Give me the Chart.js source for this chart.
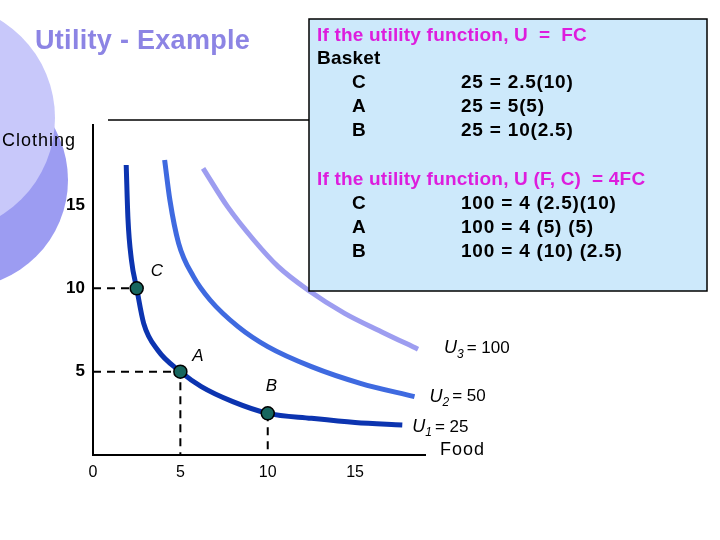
<!DOCTYPE html>
<html>
<head>
<meta charset="utf-8">
<script src="https://cdn.jsdelivr.net/npm/chart.js@4"></script>
<style>
  html, body { margin: 0; padding: 0; background: #fff; }
  #wrap { width: 720px; height: 540px; position: relative; }
</style>
</head>
<body>
<div id="wrap"><canvas id="chart"></canvas></div>
<script>
// axis ticks
var xTicks = [0, 5, 10, 15]
var yTicks = [5, 10, 15]

// indifference curves (food, clothing)
var u1Food = [1.9, 2.0, 2.2, 2.5, 2.9, 3.7, 5, 6.2, 8, 10, 12.5, 15, 17.7]
var u1Cloth = [17.4, 14.2, 11.7, 10, 7.9, 6.3, 5, 4.1, 3.2, 2.5, 2.2, 1.95, 1.8]

var u2Food = [4.1, 4.4, 4.9, 5.75, 6.7, 8.3, 10, 12.5, 15.3, 18.4]
var u2Cloth = [17.7, 15.3, 12.7, 10.7, 9.3, 7.7, 6.5, 5.3, 4.3, 3.5]

var u3Food = [6.3, 7.7, 9.2, 10.6, 12.3, 14.4, 16.5, 18.6]
var u3Cloth = [17.2, 14.9, 12.9, 11.3, 9.9, 8.5, 7.4, 6.35]

// baskets C, A, B
var basketNames = ['C', 'A', 'B']
var basketFood = [2.5, 5, 10]
var basketCloth = [10, 5, 2.5]

function pts(xs, ys) {
  return xs.map((x, i) => ({x: x, y: ys[i]}))
}

var dashC = {label: 'dashC', data: [{x: 0, y: 10}, {x: 2.5, y: 10}]}
var dashA = {label: 'dashA', data: [{x: 0, y: 5}, {x: 5, y: 5}, {x: 5, y: 0}]}
var dashB = {label: 'dashB', data: [{x: 10, y: 2.5}, {x: 10, y: 0}]}

var dashSets = [dashC, dashA, dashB].map(d => Object.assign(d, {
  showLine: true, borderColor: '#000', borderWidth: 2, borderDash: [8, 6],
  pointRadius: 0, tension: 0, order: 5
}))

function curve(label, xs, ys, color) {
  return {
    label: label, data: pts(xs, ys), showLine: true,
    borderColor: color, borderWidth: 5, pointRadius: 0,
    cubicInterpolationMode: 'monotone', borderCapStyle: 'butt', order: 3
  }
}

var FONT = '"Liberation Sans", Arial, sans-serif'

// background decoration, drawn under the chart
var slideBack = {
  id: 'slideBack',
  beforeDraw(chart) {
    let ctx = chart.ctx
    ctx.save()
    ctx.fillStyle = '#fff'
    ctx.fillRect(0, 0, chart.width, chart.height)
    ctx.fillStyle = '#9c9cf2'
    ctx.beginPath(); ctx.arc(-40, 180, 108, 0, Math.PI * 2); ctx.fill()
    ctx.fillStyle = '#c8c8fa'
    ctx.beginPath(); ctx.arc(-60, 118, 115, 0, Math.PI * 2); ctx.fill()

    ctx.strokeStyle = '#000'
    ctx.lineWidth = 1.5
    ctx.beginPath(); ctx.moveTo(108, 120); ctx.lineTo(312, 120); ctx.stroke()

    ctx.fillStyle = '#8c84e4'
    ctx.font = 'bold 27px ' + FONT
    ctx.textBaseline = 'middle'
    ctx.letterSpacing = '0.3px'
    ctx.fillText('Utility - Example', 35, 42)

    ctx.fillStyle = '#000'
    ctx.font = '18px ' + FONT
    ctx.letterSpacing = '1px'
    ctx.fillText('Clothing', 2, 141)
    ctx.fillText('Food', 440, 450)
    ctx.restore()
  }
}

function uLabel(ctx, x, y, sub, rest) {
  ctx.font = 'italic 18px ' + FONT
  ctx.fillText('U', x, y)
  let w = ctx.measureText('U').width
  ctx.font = 'italic 12px ' + FONT
  ctx.fillText(sub, x + w, y + 6)
  let w2 = ctx.measureText(sub).width
  ctx.font = '17px ' + FONT
  ctx.fillText(rest, x + w + w2 + 3, y)
}

var overlay = {
  id: 'overlay',
  afterDatasetsDraw(chart) {
    let ctx = chart.ctx
    let xs = chart.scales.x, ys = chart.scales.y
    ctx.save()
    ctx.textBaseline = 'middle'
    ctx.fillStyle = '#000'

    // basket letters next to their points
    let off = [[14, -17], [12, -15], [-2, -27]]
    basketNames.forEach((n, i) => {
      ctx.font = 'italic 17px ' + FONT
      ctx.fillText(n, xs.getPixelForValue(basketFood[i]) + off[i][0],
        ys.getPixelForValue(basketCloth[i]) + off[i][1])
    })

    // curve labels
    uLabel(ctx, xs.getPixelForValue(u3Food[u3Food.length - 1]) + 26,
      ys.getPixelForValue(u3Cloth[u3Cloth.length - 1]) - 1, '3', '= 100')
    uLabel(ctx, xs.getPixelForValue(u2Food[u2Food.length - 1]) + 15,
      ys.getPixelForValue(u2Cloth[u2Cloth.length - 1]) + 0, '2', '= 50')
    uLabel(ctx, xs.getPixelForValue(u1Food[u1Food.length - 1]) + 10,
      ys.getPixelForValue(u1Cloth[u1Cloth.length - 1]) + 2, '1', '= 25')

    // info box
    ctx.fillStyle = '#cde9fb'
    ctx.fillRect(309, 19, 398, 272)
    ctx.strokeStyle = '#000'
    ctx.lineWidth = 1.5
    ctx.strokeRect(309, 19, 398, 272)

    ctx.font = 'bold 19px ' + FONT
    ctx.letterSpacing = '0.2px'
    ctx.fillStyle = '#dd1ddd'
    ctx.fillText('If the utility function, U  =  FC', 317, 36)
    ctx.fillText('If the utility function, U (F, C)  = 4FC', 317, 180)
    ctx.fillStyle = '#000'
    ctx.fillText('Basket', 317, 59)
    let rows1 = ['25 = 2.5(10)', '25 = 5(5)', '25 = 10(2.5)']
    let rows2 = ['100 = 4 (2.5)(10)', '100 = 4 (5) (5)', '100 = 4 (10) (2.5)']
    ctx.letterSpacing = '0.8px'
    basketNames.forEach((n, i) => {
      ctx.fillText(n, 352, 83 + i * 24)
      ctx.fillText(rows1[i], 461, 83 + i * 24)
      ctx.fillText(n, 352, 204 + i * 24)
      ctx.fillText(rows2[i], 461, 204 + i * 24)
    })
    ctx.restore()
  }
}

new Chart(document.getElementById('chart'), {
  type: 'scatter',
  data: {
    datasets: [
      ...dashSets,
      curve('U3', u3Food, u3Cloth, '#9d9df0'),
      curve('U2', u2Food, u2Cloth, '#3f6ae0'),
      curve('U1', u1Food, u1Cloth, '#0c34b0'),
      {
        label: 'baskets', data: pts(basketFood, basketCloth),
        pointRadius: 6.5, pointBackgroundColor: '#17665e',
        pointBorderColor: '#000', pointBorderWidth: 1.5, order: 1
      }
    ]
  },
  options: {
    responsive: true,
    maintainAspectRatio: false,
    animation: false,
    layout: { padding: {left: 0, top: 125, right: 295, bottom: 55} },
    plugins: {
      legend: { display: false },
      tooltip: { enabled: false },
      title: { display: false }
    },
    scales: {
      x: {
        type: 'linear', min: 0, max: 19,
        grid: { display: false, drawTicks: false },
        border: { color: '#000', width: 2 },
        afterBuildTicks: s => { s.ticks = xTicks.map(v => ({value: v})) },
        afterFit: s => { s.height = 30 },
        ticks: { color: '#000', padding: 8, font: { family: FONT, size: 16 } }
      },
      y: {
        type: 'linear', min: 0, max: 19.8,
        grid: { display: false, drawTicks: false },
        border: { color: '#000', width: 2 },
        afterBuildTicks: s => { s.ticks = yTicks.map(v => ({value: v})) },
        afterFit: s => { s.width = 93 },
        ticks: { color: '#000', padding: 8, font: { family: FONT, size: 17, weight: 'bold' } }
      }
    }
  },
  plugins: [slideBack, overlay]
})
</script>
</body>
</html>
